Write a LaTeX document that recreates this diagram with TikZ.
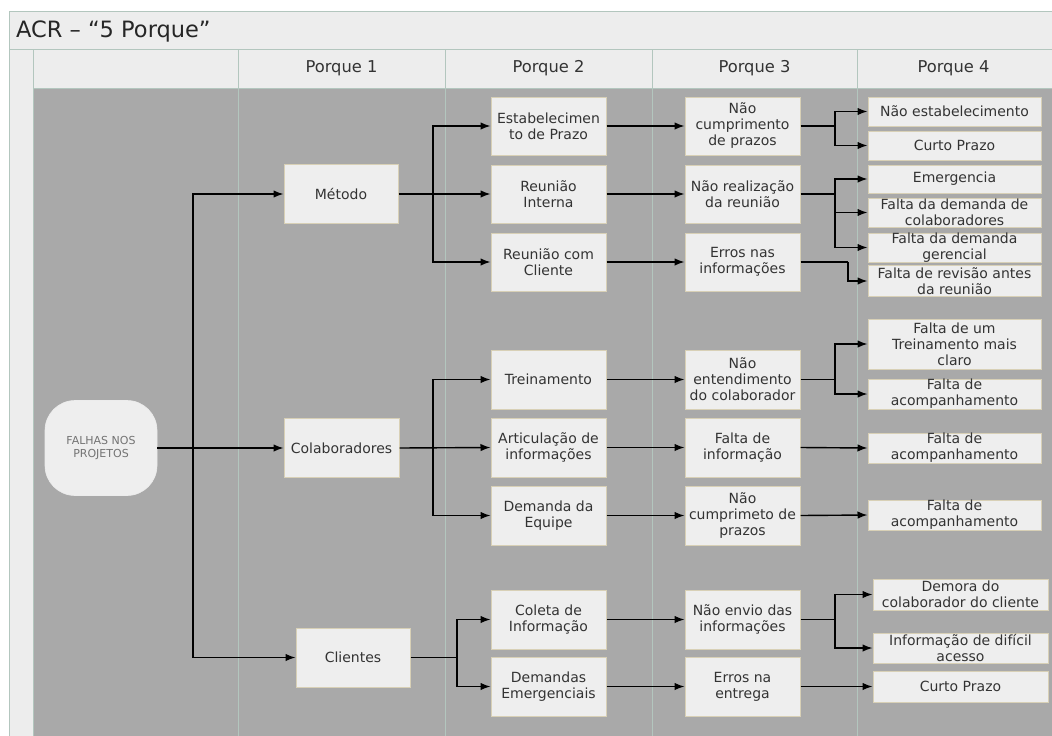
\documentclass[tikz,border=0pt]{standalone}
\usepackage{fontspec}
\setmainfont{DejaVu Sans}
\usetikzlibrary{arrows.meta}

\definecolor{paper}{HTML}{EDEDED}
\definecolor{rule}{HTML}{B3C6BE}
\definecolor{lane}{HTML}{A9A9A9}
\definecolor{boxfill}{HTML}{EEEEEE}
\definecolor{boxedge}{HTML}{D8D0B6}
\definecolor{ink}{HTML}{333333}

\tikzset{
  pbox/.style={draw=boxedge, fill=boxfill, line width=1pt, inner sep=0pt},
  ptext/.style={text=ink, align=center, inner sep=0pt, font=\fontsize{14}{16}\selectfont},
  head/.style={text=ink, inner sep=0pt, font=\fontsize{16.3}{18}\selectfont},
  link/.style={draw=black, line width=1.4pt},
  arr/.style={link, -{Latex[length=10pt,width=7.5pt]}},
}

% box drawn at a fixed size, with its text laid over it
\newcommand\pbox[6]{%
  \node[pbox, minimum width=#4pt, minimum height=#5pt] (#1) at (#2,#3) {};
  \node[ptext] (#1-t) at (#1.center) {#6};}

\begin{document}
\begin{tikzpicture}[x=1pt,y=-1pt]
\useasboundingbox (0,0) rectangle (1052,736);

% frame, title band, header row and lanes
\fill[paper] (9,11) rectangle (1052,736);
\fill[lane] (33,88) rectangle (1052,736);
\draw[rule, line width=1pt] (9,736) -- (9,11) -- (1052,11);
\draw[rule, line width=1pt] (9,49) -- (1052,49);
\draw[rule, line width=1pt] (33,88) -- (1052,88);
\foreach \x in {33,238,445,652,857}
  \draw[rule, line width=1pt] (\x,49) -- (\x,736);

\node[anchor=base west, inner sep=0pt, text=black!85, font=\fontsize{22.5}{26}\selectfont] (title) at (16,37) {ACR – “5 Porque”};

\node[head] (h1) at (341.5,68) {Porque 1};
\node[head] (h2) at (548.5,68) {Porque 2};
\node[head] (h3) at (754.5,68) {Porque 3};
\node[head] (h4) at (953.5,68) {Porque 4};

% root
\node[draw=white!85!gray, fill=boxfill, line width=0.6pt, rounded corners=30pt,
      minimum width=112pt, minimum height=95pt, inner sep=0pt, align=center,
      text=black!55, font=\fontsize{11}{12.5}\selectfont] (falhas) at (101,448) {FALHAS NOS\\PROJETOS};

% Porque 1
\pbox{metodo}{341}{194}{114}{59}{Método}
\pbox{colab}{341.5}{448}{115}{59}{Colaboradores}
\pbox{clientes}{353}{657.5}{114}{59}{Clientes}

% Porque 2
\pbox{estab}{548.5}{126}{115}{58}{Estabelecimen\\to de Prazo}
\pbox{reuint}{548.5}{194}{115}{58}{Reunião\\Interna}
\pbox{reucli}{548.5}{262}{115}{58}{Reunião com\\Cliente}
\pbox{trein}{548.5}{379.5}{115}{59}{Treinamento}
\pbox{artic}{548.5}{447.5}{115}{59}{Articulação de\\informações}
\pbox{demeq}{548.5}{515.5}{115}{59}{Demanda da\\Equipe}
\pbox{coleta}{548.5}{619.5}{115}{59}{Coleta de\\Informação}
\pbox{demem}{548.5}{686.5}{115}{59}{Demandas\\Emergenciais}

% Porque 3
\pbox{naocump}{742.5}{126}{115}{58}{Não\\cumprimento\\de prazos}
\pbox{naoreal}{742.5}{194}{115}{58}{Não realização\\da reunião}
\pbox{errinf}{742.5}{262}{115}{58}{Erros nas\\informações}
\pbox{naoent}{742.5}{379.5}{115}{59}{Não\\entendimento\\do colaborador}
\pbox{faltinf}{742.5}{447.5}{115}{59}{Falta de\\informação}
\pbox{naocumpb}{742.5}{515.5}{115}{59}{Não\\cumprimeto de\\prazos}
\pbox{naoenv}{742.5}{619.5}{115}{59}{Não envio das\\informações}
\pbox{errent}{742.5}{686.5}{115}{59}{Erros na\\entrega}

% Porque 4
\pbox{naoest}{954.5}{111.5}{173}{29}{Não estabelecimento}
\pbox{curto}{954.5}{145.5}{173}{29}{Curto Prazo}
\pbox{emerg}{954.5}{179}{173}{28}{Emergencia}
\pbox{fdcol}{954.5}{212.5}{173}{29}{Falta da demanda de\\colaboradores}
\pbox{fdger}{954.5}{247.5}{173}{29}{Falta da demanda\\gerencial}
\pbox{frev}{954.5}{281}{173}{31}{Falta de revisão antes\\da reunião}
\pbox{ftrein}{954.5}{344}{173}{50}{Falta de um\\Treinamento mais\\claro}
\pbox{facompa}{954.5}{394}{173}{30}{Falta de\\acompanhamento}
\pbox{facompb}{954.5}{448}{173}{30}{Falta de\\acompanhamento}
\pbox{facompc}{954.5}{515}{173}{30}{Falta de\\acompanhamento}
\pbox{demora}{960.5}{594.5}{175}{31}{Demora do\\colaborador do cliente}
\pbox{dificil}{960.5}{648}{175}{30}{Informação de difícil\\acesso}
\pbox{curtob}{960.5}{686.5}{175}{31}{Curto Prazo}

% branch points
\coordinate (s0) at (193,448);
\coordinate (s1) at (433,194);
\coordinate (s2) at (433,448);
\coordinate (s3) at (457,657.5);
\coordinate (t1) at (835,126);
\coordinate (t2) at (835,194);
\coordinate (t3) at (848,262);
\coordinate (t4) at (835,379.5);
\coordinate (t5) at (835,619.5);

% root to Porque 1
\draw[arr] (falhas.east) -- (colab.west);
\draw[arr] (s0) |- (metodo.west);
\draw[arr] (s0) |- (clientes.west);

% Porque 1 to Porque 2
\draw[arr] (metodo.east) -- (reuint.west);
\draw[arr] (s1) |- (estab.west);
\draw[arr] (s1) |- (reucli.west);
\draw[arr] (colab.east) -- (artic.west);
\draw[arr] (s2) |- (trein.west);
\draw[arr] (s2) |- (demeq.west);
\draw[link] (clientes.east) -- (s3);
\draw[arr] (s3) |- (coleta.west);
\draw[arr] (s3) |- (demem.west);

% Porque 2 to Porque 3
\foreach \a/\b in {estab/naocump, reuint/naoreal, reucli/errinf, trein/naoent,
                   artic/faltinf, demeq/naocumpb, coleta/naoenv, demem/errent}
  \draw[arr] (\a.east) -- (\b.west);

% Porque 3 to Porque 4
\draw[link] (naocump.east) -- (t1);
\draw[arr] (t1) |- (naoest.west);
\draw[arr] (t1) |- (curto.west);
\draw[link] (naoreal.east) -- (t2);
\draw[arr] (t2) |- (emerg.west);
\draw[arr] (t2) |- (fdcol.west);
\draw[arr] (t2) |- (fdger.west);
\draw[link] (errinf.east) -- (t3);
\draw[arr] (t3) |- (frev.west);
\draw[link] (naoent.east) -- (t4);
\draw[arr] (t4) |- (ftrein.west);
\draw[arr] (t4) |- (facompa.west);
\draw[arr] (faltinf.east) -- (facompb.west);
\draw[arr] (naocumpb.east) -- (facompc.west);
\draw[link] (naoenv.east) -- (t5);
\draw[arr] (t5) |- (demora.west);
\draw[arr] (t5) |- (dificil.west);
\draw[arr] (errent.east) -- (curtob.west);
\end{tikzpicture}
\end{document}
